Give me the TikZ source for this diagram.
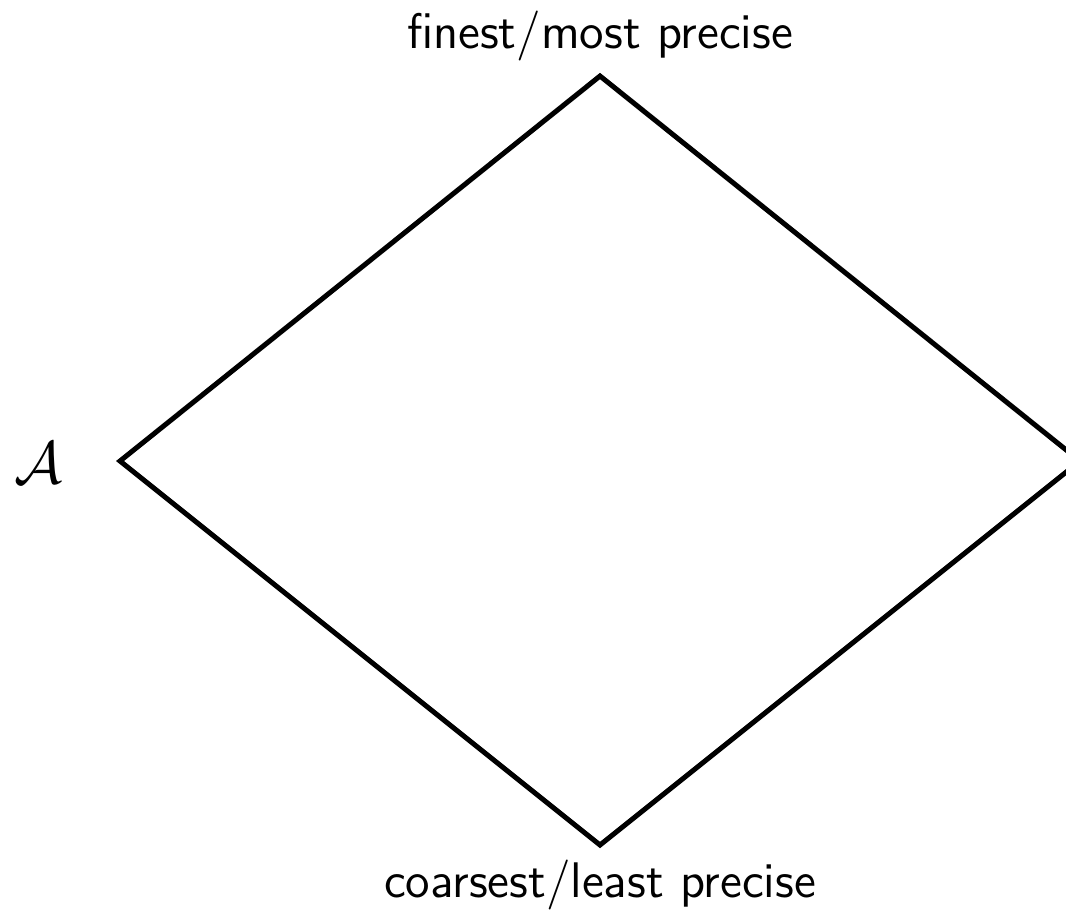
\documentclass[tikz,border=0pt]{standalone}
\begin{document}
\begin{tikzpicture}[x=0.24pt,y=-0.24pt,
  edge/.style={line width=1.2pt,line join=miter},
  lbl/.style={font=\sffamily\large,inner sep=0pt,anchor=base}]
\useasboundingbox (0,0) rectangle (1066,913);
\coordinate (T) at (600,76);
\coordinate (L) at (120,461);
\coordinate (B) at (600,845);
\coordinate (R) at (1080,461);
\begin{scope}
\clip (0,0) rectangle (1066,913);
\draw[edge] (T) -- (L) -- (B) -- (R) -- cycle;
\end{scope}
\node[lbl] (top) at (600,48) {finest/most precise};
\node[lbl] (bot) at (600,897) {coarsest/least precise};
\node[font=\Large,inner sep=0pt] (A) at (38,463) {$\mathcal{A}$};
\end{tikzpicture}
\end{document}
